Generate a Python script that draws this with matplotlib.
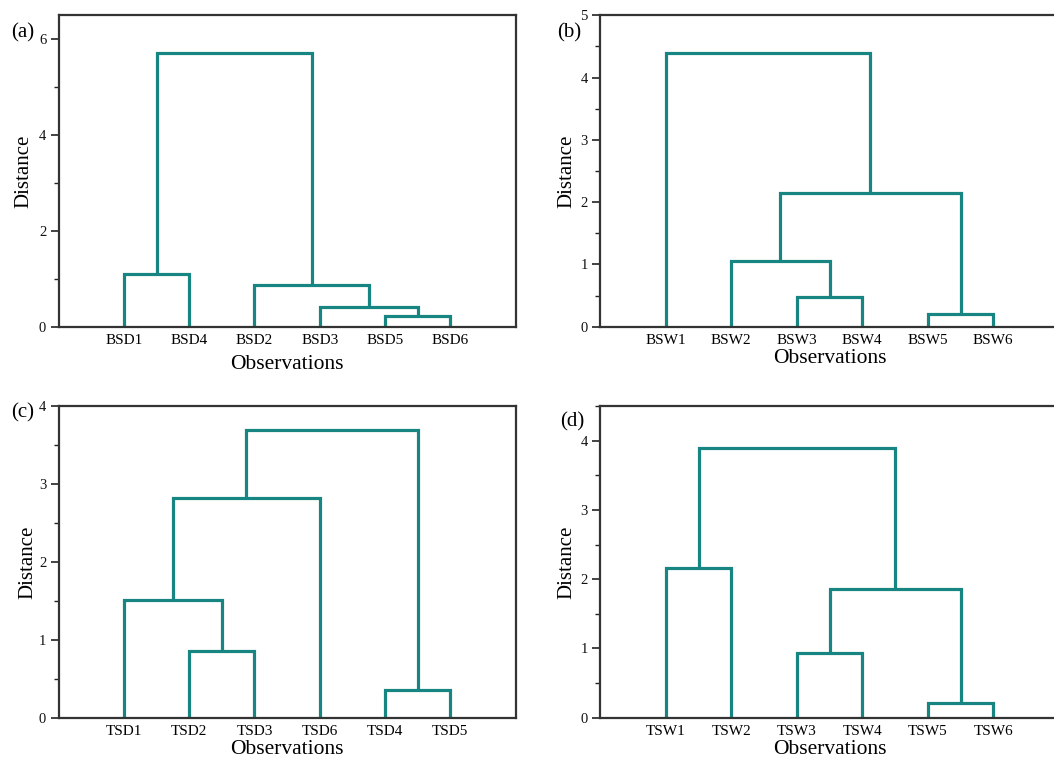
import matplotlib
matplotlib.use("Agg")
import matplotlib.pyplot as plt
from matplotlib.ticker import MultipleLocator

plt.rcParams['font.family'] = ['Liberation Serif', 'DejaVu Serif']

# Leaf order and merge heights for each cluster tree.
# Merges refer to leaves by name and to earlier merges as "m<k>".
leaves_a = ["BSD1", "BSD4", "BSD2", "BSD3", "BSD5", "BSD6"]
merges_a = [("BSD5", "BSD6", 0.23), ("BSD3", "m0", 0.42), ("BSD2", "m1", 0.87),
            ("BSD1", "BSD4", 1.10), ("m3", "m2", 5.71)]

leaves_b = ["BSW1", "BSW2", "BSW3", "BSW4", "BSW5", "BSW6"]
merges_b = [("BSW5", "BSW6", 0.20), ("BSW3", "BSW4", 0.48), ("BSW2", "m1", 1.06),
            ("m2", "m0", 2.14), ("BSW1", "m3", 4.39)]

leaves_c = ["TSD1", "TSD2", "TSD3", "TSD6", "TSD4", "TSD5"]
merges_c = [("TSD4", "TSD5", 0.36), ("TSD2", "TSD3", 0.86), ("TSD1", "m1", 1.51),
            ("m2", "TSD6", 2.82), ("m3", "m0", 3.69)]

leaves_d = ["TSW1", "TSW2", "TSW3", "TSW4", "TSW5", "TSW6"]
merges_d = [("TSW5", "TSW6", 0.21), ("TSW3", "TSW4", 0.93), ("TSW1", "TSW2", 2.16),
            ("m1", "m0", 1.86), ("m2", "m3", 3.90)]

LINE = "#178682"
W, H = 1054, 757


def draw_tree(ax, leaves, merges):
    pos = {name: (i + 1, 0.0) for i, name in enumerate(leaves)}
    for k, (a, b, h) in enumerate(merges):
        xa, ya = pos[a]
        xb, yb = pos[b]
        ax.plot([xa, xa, xb, xb], [ya, h, h, yb], color=LINE, lw=2.3,
                solid_joinstyle="miter", solid_capstyle="butt", clip_on=False)
        pos[f"m{k}"] = ((xa + xb) / 2, h)
    ax.set_xticks(range(1, len(leaves) + 1))
    ax.set_xticklabels(leaves)


def axes_px(left, top, width, height):
    return fig.add_axes([left / W, 1 - (top + height) / H, width / W, height / H])


fig = plt.figure(figsize=(W / 100, H / 100), dpi=100)

# axes, leaves, merges, y max, major step, minor step, tag, tag position, xlabel pad, ylabel pad
panels = [
    (axes_px(58.7, 15.3, 456.8, 311.4), leaves_a, merges_a, 6.5, 2, 1, "(a)", (-0.078, 0.945), 6, 4),
    (axes_px(600.3, 15.3, 458.5, 311.4), leaves_b, merges_b, 5.0, 1, 0.5, "(b)", (-0.068, 0.945), 2, 3),
    (axes_px(58.7, 406.0, 456.8, 311.7), leaves_c, merges_c, 4.0, 1, 0.5, "(c)", (-0.08, 0.977), 1.5, 1),
    (axes_px(600.3, 406.0, 458.5, 311.7), leaves_d, merges_d, 4.5, 1, 0.5, "(d)", (-0.062, 0.95), 1.5, 3),
]

for ax, leaves, merges, ymax, major, minor, tag, tagpos, xpad, ypad in panels:
    draw_tree(ax, leaves, merges)
    ax.set_xlim(0, 7)
    ax.set_ylim(0, ymax)
    ax.yaxis.set_major_locator(MultipleLocator(major))
    ax.yaxis.set_minor_locator(MultipleLocator(minor))
    ax.tick_params(axis="y", which="major", direction="out", length=6, width=1.2,
                   labelsize=10.5, pad=3, colors="#222222")
    ax.tick_params(axis="y", which="minor", direction="out", length=3.5, width=1.0,
                   colors="#222222")
    ax.tick_params(axis="x", length=0, labelsize=11, pad=5)
    ax.tick_params(axis="y", labelcolor="#111111")
    for s in ax.spines.values():
        s.set_linewidth(1.6)
        s.set_color("#333333")
    ax.set_xlabel("Observations", fontsize=15.5, labelpad=xpad)
    ax.set_ylabel("Distance", fontsize=15, labelpad=ypad)
    ax.text(tagpos[0], tagpos[1], tag, transform=ax.transAxes, fontsize=15,
            ha="center", va="center")

fig.savefig("out.png", dpi=100)
